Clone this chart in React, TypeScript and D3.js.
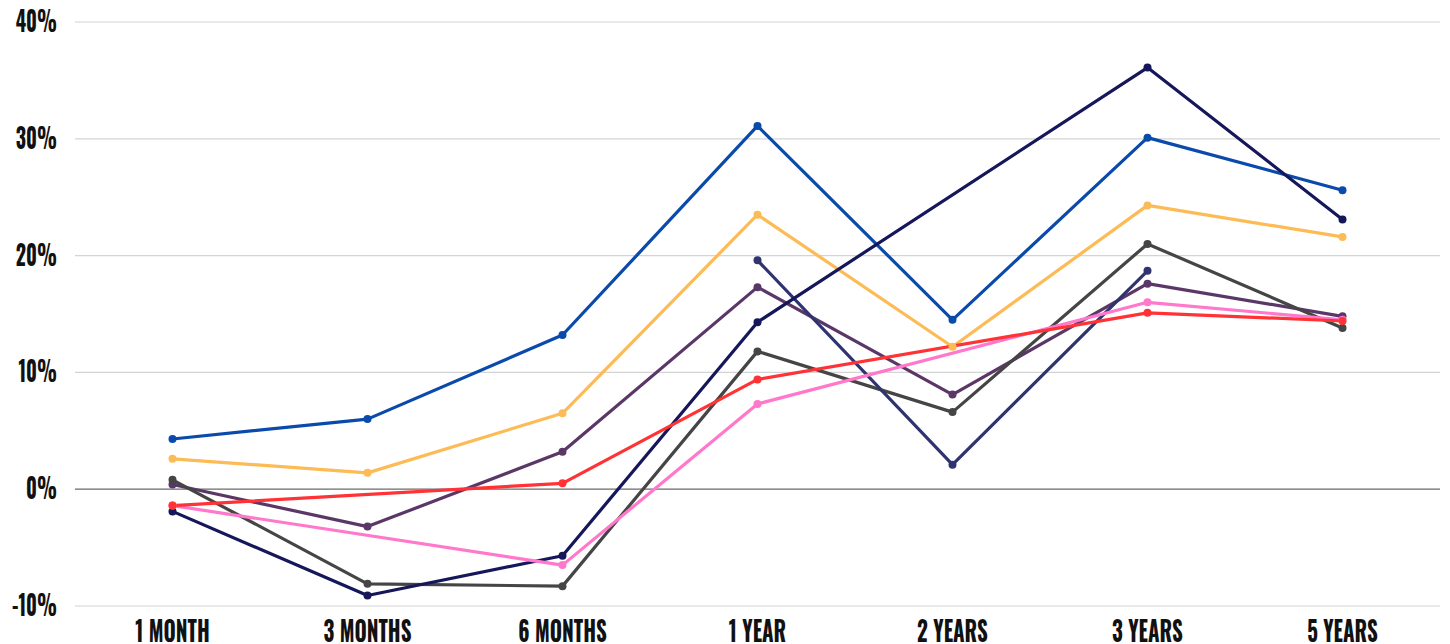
import React from "react";
import * as d3 from "d3";

const categories = ["1 MONTH", "3 MONTHS", "6 MONTHS", "1 YEAR", "2 YEARS", "3 YEARS", "5 YEARS"];
const yTicks = [-10, 0, 10, 20, 30, 40];

const seriesBlue = [4.3, 6.0, 13.2, 31.1, 14.5, 30.1, 25.6];
const seriesOrange = [2.6, 1.4, 6.5, 23.5, 12.2, 24.3, 21.6];
const seriesPurple = [0.4, -3.2, 3.2, 17.3, 8.1, 17.6, 14.8];
const seriesGray = [0.8, -8.1, -8.3, 11.8, 6.6, 21.0, 13.8];
const seriesSlate = [null, null, null, 19.6, 2.1, 18.7, null];
const seriesNavy = [-1.9, -9.1, -5.7, 14.3, null, 36.1, 23.1];
const seriesPink = [-1.4, null, -6.5, 7.3, null, 16.0, 14.5];
const seriesRed = [-1.4, null, 0.5, 9.4, null, 15.1, 14.4];

const seriesList = [
  { name: "blue", color: "#0a4aab", values: seriesBlue },
  { name: "orange", color: "#fdbb56", values: seriesOrange },
  { name: "purple", color: "#5b3768", values: seriesPurple },
  { name: "gray", color: "#454545", values: seriesGray },
  { name: "slate", color: "#2f336f", values: seriesSlate },
  { name: "navy", color: "#15175a", values: seriesNavy },
  { name: "pink", color: "#ff78cb", values: seriesPink },
  { name: "red", color: "#ff3236", values: seriesRed },
];

const W = 1450;
const H = 644;
const left = 75;
const right = 1440;
const top = 22;
const bottom = 606;

export default function App() {
  const x = d3.scaleBand<string>().domain(categories).range([left, right]).padding(0);
  const y = d3.scaleLinear().domain([-10, 40]).range([bottom, top]);
  const cx = (c: string) => (x(c) as number) + x.bandwidth() / 2;

  const font = "'Oswald', 'DejaVu Sans Condensed', 'Liberation Sans Narrow', sans-serif";

  const pointsOf = (vals: (number | null)[]) =>
    vals
      .map((v, i) => (v == null ? null : ([cx(categories[i]), y(v)] as [number, number])))
      .filter((p): p is [number, number] => p != null);

  const line = d3.line<[number, number]>().x((d) => d[0]).y((d) => d[1]);

  return (
    <svg width={W} height={H} style={{ position: "absolute", left: 0, top: 0, background: "#fff" }}>
      {yTicks.map((t) => (
        <g key={t}>
          <line
            x1={left}
            x2={right}
            y1={y(t)}
            y2={y(t)}
            stroke={t === 0 ? "#6b6b6b" : "#d4d4d4"}
            strokeWidth={1.2}
          />
          <text
            x={57}
            y={y(t)}
            dy="0.36em"
            textAnchor="end"
            fontFamily={font}
            fontWeight="bold"
            fontSize={28}
            fill="#111"
            transform={`translate(57,0) scale(0.71,1) translate(-57,0)`}
          >
            {t}%
          </text>
        </g>
      ))}
      {categories.map((c) => (
        <text
          key={c}
          x={cx(c)}
          y={642}
          textAnchor="middle"
          fontFamily={font}
          fontWeight="bold"
          fontSize={28}
          fill="#111"
          transform={`translate(${cx(c)},0) scale(0.75,1) translate(${-cx(c)},0)`}
        >
          {c}
        </text>
      ))}
      {seriesList.map((s) => (
        <path
          key={s.name}
          d={line(pointsOf(s.values)) || ""}
          fill="none"
          stroke={s.color}
          strokeWidth={3.2}
          strokeLinejoin="round"
        />
      ))}
      {seriesList.map((s) => (
        <g key={s.name + "-pts"}>
          {pointsOf(s.values).map((p, i) => (
            <circle key={i} cx={p[0]} cy={p[1]} r={4} fill={s.color} />
          ))}
        </g>
      ))}
    </svg>
  );
}
